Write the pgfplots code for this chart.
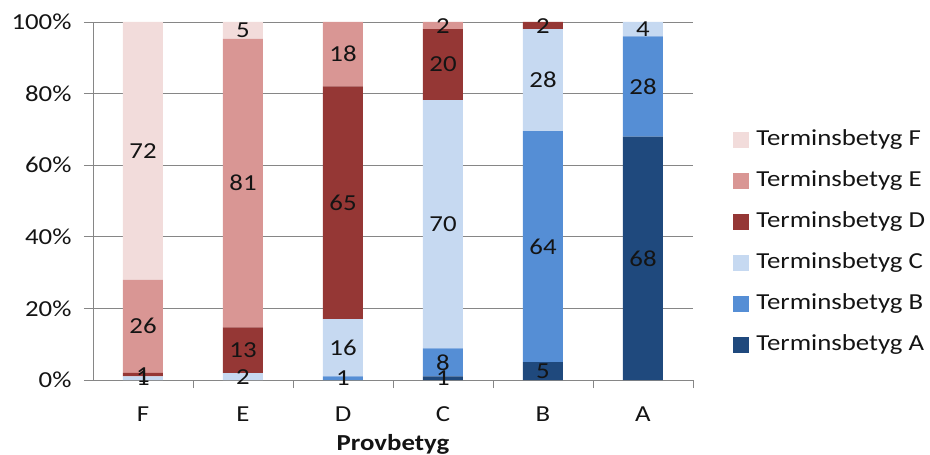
\documentclass[border=0pt]{standalone}
\usepackage{fontspec}
\setmainfont{Carlito}[FakeStretch=1.17]
\usepackage{pgfplots}
\usepackage{pgfplotstable}
\pgfplotsset{compat=1.18}
\definecolor{cF}{HTML}{F2DCDB}
\definecolor{cE}{HTML}{D99694}
\definecolor{cD}{HTML}{953735}
\definecolor{cC}{HTML}{C6D9F1}
\definecolor{cB}{HTML}{558ED5}
\definecolor{cA}{HTML}{1F497D}
\definecolor{axgray}{HTML}{868686}
\definecolor{txt}{HTML}{141414}

% segment heights (percent of each bar)
\pgfplotstableread{
x A B C D E F
0 0 0 1 1 26 72
1 0 0 1.9 12.8 80.6 4.7
2 0 1 16 65 18 0
3 1 7.8 69.4 19.8 2.0 0
4 5 64.5 28.5 2.0 0 0
5 68 28 4 0 0 0
}\data

% data labels: position (segment middle) and text
\pgfplotstableread{
x y lab
0 0.5 1
0 1.5 1
0 15 26
0 64 72
1 0.95 2
1 8.3 13
1 55.0 81
1 97.65 5
2 0.5 1
2 9 16
2 49.5 65
2 91 18
3 0.5 1
3 4.9 8
3 43.5 70
3 88.1 20
3 99.0 2
4 2.5 5
4 37.25 64
4 83.75 28
4 99.0 2
5 34 68
5 82 28
5 98 4
}\labels

\newcommand{\chartfont}{\fontsize{23}{27}\selectfont}

\begin{document}
\begin{tikzpicture}
\begin{axis}[
  name=main,
  scale only axis, width=600bp, height=358bp,
  ybar stacked, bar width=40bp,
  xmin=-0.5, xmax=5.5, ymin=0, ymax=100,
  axis x line*=bottom, axis y line*=left,
  axis line style={axgray, line width=0.9pt, -},
  xtick={0,...,5}, xticklabels={F,E,D,C,B,A},
  minor xtick={0.5,1.5,2.5,3.5,4.5,5.5},
  major x tick style={draw=none},
  minor x tick style={axgray, line width=0.9pt},
  ytick={0,20,...,100},
  y tick style={axgray, line width=0.9pt},
  tick align=outside,
  major tick length=9bp, minor tick length=8bp,
  ymajorgrids, grid style={axgray, line width=0.9pt},
  /pgf/number format/assume math mode=true,
  yticklabel={\pgfmathprintnumber{\tick}\%},
  ticklabel style={font=\chartfont, text=txt},
  yticklabel style={xshift=-9bp},
  xticklabel style={yshift=-14bp},
  xlabel={\bfseries Provbetyg},
  every axis x label/.style={at={(axis description cs:0.5,0)}, anchor=center, yshift=-64bp, font=\chartfont, text=txt},
  legend style={draw=none, fill=none, at={(1.062,0.385)}, anchor=west,
    font=\chartfont, text=txt, row sep=22bp,
    nodes={inner sep=0pt, text height=15bp, text depth=4bp}},
  legend cell align=left,
  legend image code/.code={\fill[#1, draw=none] (0bp,-8bp) rectangle (16bp,8bp); \path (23bp,0bp);},
  reverse legend,
]
\addplot[fill=cA, draw=none] table[x=x,y=A]{\data};
\addplot[fill=cB, draw=none] table[x=x,y=B]{\data};
\addplot[fill=cC, draw=none] table[x=x,y=C]{\data};
\addplot[fill=cD, draw=none] table[x=x,y=D]{\data};
\addplot[fill=cE, draw=none] table[x=x,y=E]{\data};
\addplot[fill=cF, draw=none] table[x=x,y=F]{\data};
\legend{Terminsbetyg A,Terminsbetyg B,Terminsbetyg C,Terminsbetyg D,Terminsbetyg E,Terminsbetyg F}
\end{axis}
\begin{axis}[
  at={(main.south west)}, anchor=south west,
  scale only axis, width=600bp, height=358bp,
  xmin=-0.5, xmax=5.5, ymin=0, ymax=100,
  hide axis, clip=false,
]
\addplot[only marks, mark=*, mark size=0pt, mark options={draw=none, fill=none},
  point meta=explicit symbolic, nodes near coords,
  every node near coord/.style={anchor=center, inner sep=0pt, font=\chartfont, text=txt}]
  table[x=x, y=y, meta=lab]{\labels};
\end{axis}
\pgfresetboundingbox
\path[use as bounding box] ([shift={(-93bp,-75bp)}]main.south west) rectangle ++(930bp,455bp);
\end{tikzpicture}
\end{document}
